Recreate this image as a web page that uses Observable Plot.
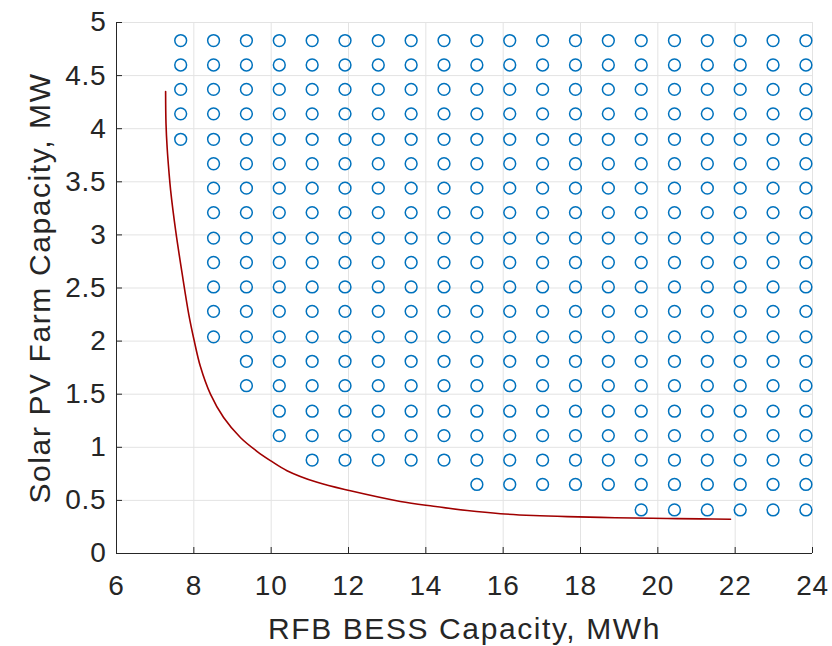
<!DOCTYPE html>
<html>
<head>
<meta charset="utf-8">
<script src="https://cdn.jsdelivr.net/npm/d3@7"></script>
<script src="https://cdn.jsdelivr.net/npm/@observablehq/plot@0.6"></script>
<style>
  html, body { margin: 0; padding: 0; background: #fff; }
  #chart { width: 832px; height: 646px; }
</style>
</head>
<body>
<div id="chart"></div>
<script>
// ---- data ----
const bessCap = [7.66, 8.51, 9.36, 10.21, 11.06, 11.91, 12.77, 13.62, 14.47, 15.32,
                 16.17, 17.02, 17.87, 18.72, 19.57, 20.43, 21.28, 22.13, 22.98, 23.83];
const pvCap = [0.41, 0.65, 0.88, 1.11, 1.34, 1.58, 1.81, 2.04, 2.28, 2.51,
               2.74, 2.97, 3.21, 3.44, 3.67, 3.90, 4.14, 4.37, 4.60, 4.83];
// lowest feasible PV capacity in each BESS column
const minPvPerColumn = [3.90, 2.04, 1.58, 1.11, 0.88, 0.88, 0.88, 0.88, 0.88, 0.65,
                        0.65, 0.65, 0.65, 0.65, 0.41, 0.41, 0.41, 0.41, 0.41, 0.41];
// boundary curve
const curveBess = [7.27, 7.28, 7.31, 7.355, 7.40, 7.53, 7.70, 7.87, 8.00, 8.17, 8.43, 8.77, 9.21, 9.64,
                   9.98, 10.41, 11.19, 12.05, 13.34, 14.2, 15.07, 15.93, 16.78, 17.66, 18.52,
                   19.37, 20.24, 21.1, 21.88];
const curvePv = [4.35, 4.05, 3.82, 3.60, 3.42, 3.04, 2.63, 2.25, 2.02, 1.76, 1.50, 1.28, 1.09, 0.96,
                 0.875, 0.78, 0.67, 0.59, 0.49, 0.445, 0.405, 0.375, 0.358, 0.347, 0.34,
                 0.334, 0.330, 0.326, 0.323];
const xTicks = [6, 8, 10, 12, 14, 16, 18, 20, 22, 24];
const yTicks = [0, 0.5, 1, 1.5, 2, 2.5, 3, 3.5, 4, 4.5, 5];
const xLabel = ["RFB BESS Capacity, MWh"];
const yLabel = ["Solar PV Farm Capacity, MW"];

// ---- build tables ----
const points = [];
bessCap.forEach((b, i) => {
  pvCap.forEach(p => { if (p >= minPvPerColumn[i] - 1e-9) points.push({bess: b, pv: p}); });
});
const curve = curveBess.map((b, i) => ({bess: b, pv: curvePv[i]}));

const W = 832, H = 646;
const mL = 116, mR = 20, mT = 22, mB = 93;
const innerW = W - mL - mR, innerH = H - mT - mB;
const axisColor = "#262626";
const gridColor = "#e3e3e3";

const chart = Plot.plot({
  width: W,
  height: H,
  marginLeft: mL,
  marginRight: mR,
  marginTop: mT,
  marginBottom: mB,
  style: {fontFamily: "'Liberation Sans', Arial, Helvetica, sans-serif", color: axisColor, background: "#fff", letterSpacing: "0.8px"},
  x: {domain: [6, 24], label: null},
  y: {domain: [0, 5], label: null},
  marks: [
    Plot.gridX(xTicks, {stroke: gridColor, strokeOpacity: 1, strokeWidth: 1}),
    Plot.gridY(yTicks, {stroke: gridColor, strokeOpacity: 1, strokeWidth: 1}),
    Plot.ruleY([0], {stroke: axisColor, strokeWidth: 1}),
    Plot.ruleX([6], {stroke: axisColor, strokeWidth: 1}),
    Plot.tickX(xTicks, {x: d => d, insetTop: innerH - 6, stroke: axisColor}),
    Plot.tickY(yTicks, {y: d => d, insetRight: innerW - 6, stroke: axisColor}),
    Plot.axisX(xTicks, {tickSize: 0, tickPadding: 22, fontSize: 28, label: null}),
    Plot.axisY(yTicks, {tickSize: 0, tickPadding: 10, fontSize: 28, label: null, tickFormat: d => String(d)}),
    Plot.dot(points, {x: "bess", y: "pv", r: 5.9, stroke: "#0072BD", strokeWidth: 1.5, fill: "none"}),
    Plot.line(curve, {x: "bess", y: "pv", stroke: "#a00000", strokeWidth: 1.6, curve: "catmull-rom"}),
    Plot.text(xLabel, {text: d => d, frameAnchor: "bottom", dy: 64, lineAnchor: "top", textAnchor: "middle", fontSize: 30, fill: axisColor}),
    Plot.text(yLabel, {text: d => d, frameAnchor: "left", dx: -76, rotate: -90, lineAnchor: "middle", textAnchor: "middle", fontSize: 30, fill: axisColor})
  ]
});
d3.select(chart).selectAll("text")
  .filter(function() { return this.textContent === xLabel[0] || this.textContent === yLabel[0]; })
  .style("letter-spacing", "1.6px");
document.getElementById("chart").appendChild(chart);
</script>
</body>
</html>
